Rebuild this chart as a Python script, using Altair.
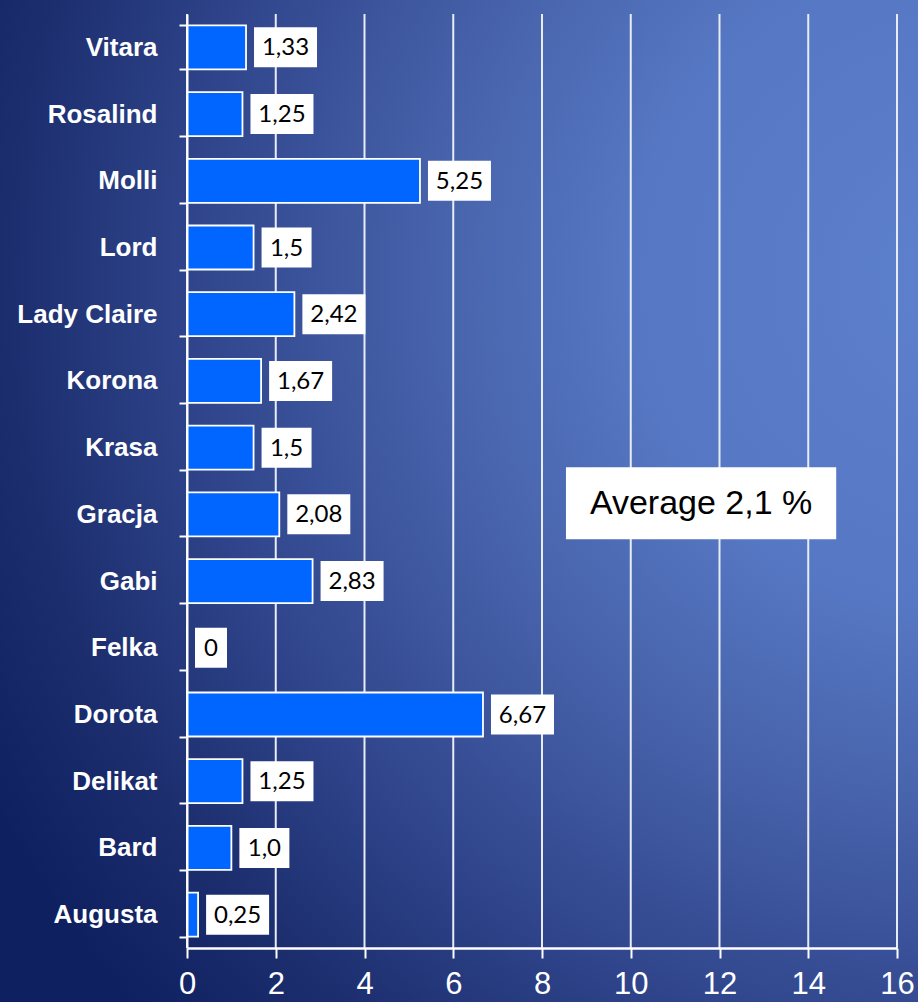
import altair as alt
import pandas as pd

# ---- data ----
names = ["Vitara", "Rosalind\u00a0", "Molli", "Lord", "Lady Claire", "Korona\u00a0", "Krasa",
         "Gracja", "Gabi", "Felka", "Dorota", "Delikat", "Bard", "Augusta"]
values = [1.33, 1.25, 5.25, 1.5, 2.42, 1.67, 1.5, 2.08, 2.83, 0, 6.67, 1.25, 1.0, 0.25]
labels = ["1,33", "1,25", "5,25", "1,5", "2,42", "1,67", "1,5", "2,08", "2,83", "0",
          "6,67", "1,25", "1,0", "0,25"]
x_ticks = [0, 2, 4, 6, 8, 10, 12, 14, 16]
avg_text = "Average 2,1 %"
avg_anchor = "Gracja"
avg_span = (8.54, 14.63)

W, H = 710, 934
LEFT, TOP = 187, 14
PX = W / 16.0  # pixels per unit

df = pd.DataFrame({"name": names, "value": values, "label": labels})
ticks_df = pd.DataFrame({"t": x_ticks})
avg_df = pd.DataFrame({"name": [avg_anchor], "text": [avg_text],
                       "x1": [avg_span[0]], "x2": [avg_span[1]],
                       "xm": [(avg_span[0] + avg_span[1]) / 2]})

xscale = alt.Scale(domain=[0, 16], nice=False, zero=True)
yscale = alt.Scale(domain=names, paddingInner=0.34, paddingOuter=0.17)

bg_grad = alt.RadialGradient(
    gradient="radial",
    stops=[alt.GradientStop(color="#5e81cd", offset=0),
           alt.GradientStop(color="#5677c3", offset=0.3),
           alt.GradientStop(color="#4560a8", offset=0.5),
           alt.GradientStop(color="#2f448b", offset=0.7),
           alt.GradientStop(color="#1c2e6e", offset=0.86),
           alt.GradientStop(color="#0e2060", offset=1)],
    x1=1.0, y1=0.28, r1=0, x2=1.0, y2=0.28, r2=1.1)

bg = alt.Chart(pd.DataFrame({"a": [0]})).mark_rect(fill=bg_grad).encode(
    x=alt.value(-LEFT), x2=alt.value(918 - LEFT),
    y=alt.value(-TOP), y2=alt.value(1002 - TOP))

x_axis = alt.Axis(values=x_ticks, grid=False, domainColor="white", domainWidth=2.5,
                  tickColor="white", tickWidth=2, tickSize=10,
                  labelColor="white", labelFont="Liberation Sans", labelFontSize=31,
                  labelPadding=11, title=None, zindex=1, labelFlush=False)
y_axis = alt.Axis(title=None, domainColor="white", domainWidth=2, tickColor="white",
                  tickWidth=2, tickSize=8, tickBand="extent", grid=False,
                  labelColor="white", labelFont="Liberation Sans",
                  labelFontWeight="bold", labelFontSize=26, labelPadding=22,
                  zindex=1, labelLimit=300)

grid = alt.Chart(ticks_df).mark_rule(color="#e8ecf4", strokeWidth=2).encode(
    x=alt.X("t:Q", scale=xscale, axis=x_axis),
    y=alt.value(0), y2=alt.value(H))

bars = alt.Chart(df).mark_bar(color="#0066ff", stroke="white", strokeWidth=1.8, size=44).encode(
    x=alt.X("value:Q", scale=xscale, axis=x_axis),
    y=alt.Y("name:N", scale=yscale, sort=names, axis=y_axis))

lab_base = alt.Chart(df).transform_calculate(
    nd="length(replace(datum.label, ',', ''))",
).transform_calculate(
    bw="datum.nd * 13 + (length(datum.label) - datum.nd) * 5 + 19",
).transform_calculate(
    bx1=f"datum.value + 8 / {PX}",
).transform_calculate(
    bx2=f"datum.bx1 + datum.bw / {PX}",
    bxm=f"datum.bx1 + datum.bw / 2 / {PX}",
)

boxes = lab_base.mark_bar(color="white", size=40).encode(
    x=alt.X("bx1:Q", scale=xscale, axis=x_axis), x2="bx2:Q",
    y=alt.Y("name:N", scale=yscale, sort=names, axis=y_axis))

texts = lab_base.mark_text(font="Lato", fontSize=24, color="black", baseline="middle",
                           align="center", dy=1).encode(
    x=alt.X("bxm:Q", scale=xscale, axis=x_axis),
    y=alt.Y("name:N", scale=yscale, sort=names, axis=y_axis),
    text="label:N")

avg_box = alt.Chart(avg_df).mark_bar(color="white", size=72, yOffset=-11).encode(
    x=alt.X("x1:Q", scale=xscale, axis=x_axis), x2="x2:Q",
    y=alt.Y("name:N", scale=yscale, sort=names, axis=y_axis))

avg_txt = alt.Chart(avg_df).mark_text(font="Liberation Sans", fontSize=34, color="black",
                                      baseline="middle", align="center", dy=-10).encode(
    x=alt.X("xm:Q", scale=xscale, axis=x_axis),
    y=alt.Y("name:N", scale=yscale, sort=names, axis=y_axis),
    text="text:N")

chart = alt.layer(bg, grid, bars, boxes, texts, avg_box, avg_txt).properties(
    width=W, height=H, padding=0, background="#2a3f85"
).configure_view(stroke=None)

chart.save("out.html", embed_options={"renderer": "svg", "actions": False})
